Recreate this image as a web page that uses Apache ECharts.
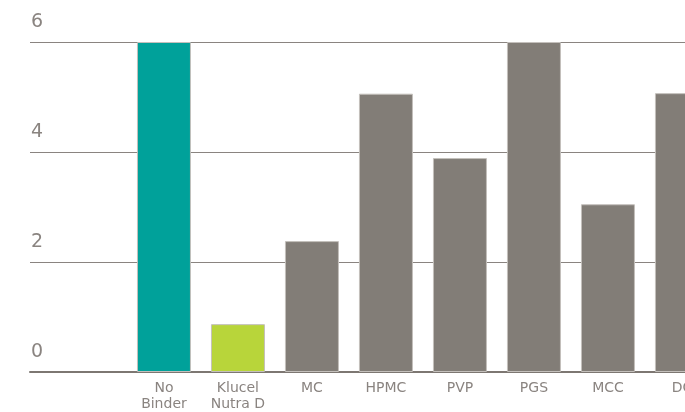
<!DOCTYPE html>
<html lang="en">
<head>
  <meta charset="UTF-8">
  <title>Binder comparison</title>
  <script src="https://cdn.jsdelivr.net/npm/echarts@6.0.0/dist/echarts.min.js"></script>
  <style>
    html, body { margin: 0; padding: 0; background: #fff; }
  </style>
</head>
<body>
  <div id="main" style="width: 685px;height:412px;"></div>

  <script type="text/javascript">
    // chart values
    const categories = ['No\nBinder', 'Klucel\nNutra D', 'MC', 'HPMC', 'PVP', 'PGS', 'MCC', 'DC'];
    const values = [6.0, 0.87, 2.38, 5.06, 3.89, 6.0, 3.05, 5.07];
    const barColors = ['#00a19a', '#b8d53a', '#827d77', '#827d77', '#827d77', '#827d77', '#827d77', '#827d77'];
    const yTicks = [0, 2, 4, 6];

    let myChart = echarts.init(document.getElementById('main'));

    // bars sit on a value axis so the first one can start off-grid like the original
    let barData = values.map((v, i) => ({
      value: [i, v],
      itemStyle: { color: barColors[i] }
    }));

    let options = {
      animation: false,
      grid: { left: 30, top: 42, width: 740, bottom: 40, outerBoundsMode: 'none' },
      xAxis: {
        type: 'value',
        min: -1.81,
        max: 8.19,
        splitLine: { show: false },
        axisTick: { show: false },
        axisLine: { show: true, lineStyle: { color: '#7d7772', width: 2 } },
        axisLabel: {
          customValues: categories.map((c, i) => i),
          formatter: (v) => categories[v] || '',
          color: '#8a8480',
          fontFamily: 'DejaVu Sans',
          fontSize: 14,
          lineHeight: 16,
          margin: 8
        }
      },
      yAxis: {
        type: 'value',
        min: 0,
        max: 6,
        interval: 2,
        axisLine: { show: false },
        axisTick: { show: false },
        splitLine: { lineStyle: { color: '#8a8480', width: 1 } },
        axisLabel: {
          inside: true,
          align: 'left',
          verticalAlign: 'bottom',
          margin: 1,
          padding: [0, 0, 10, 0],
          color: '#8a8480',
          fontFamily: 'DejaVu Sans',
          fontSize: 19,
          formatter: (v) => yTicks.includes(v) ? String(v) : ''
        }
      },
      series: [{
        type: 'bar',
        barWidth: 54,
        data: barData,
        itemStyle: { borderColor: '#c4c0bc', borderWidth: 1 }
      }]
    };

    myChart.setOption(options);
  </script>
</body>
</html>
